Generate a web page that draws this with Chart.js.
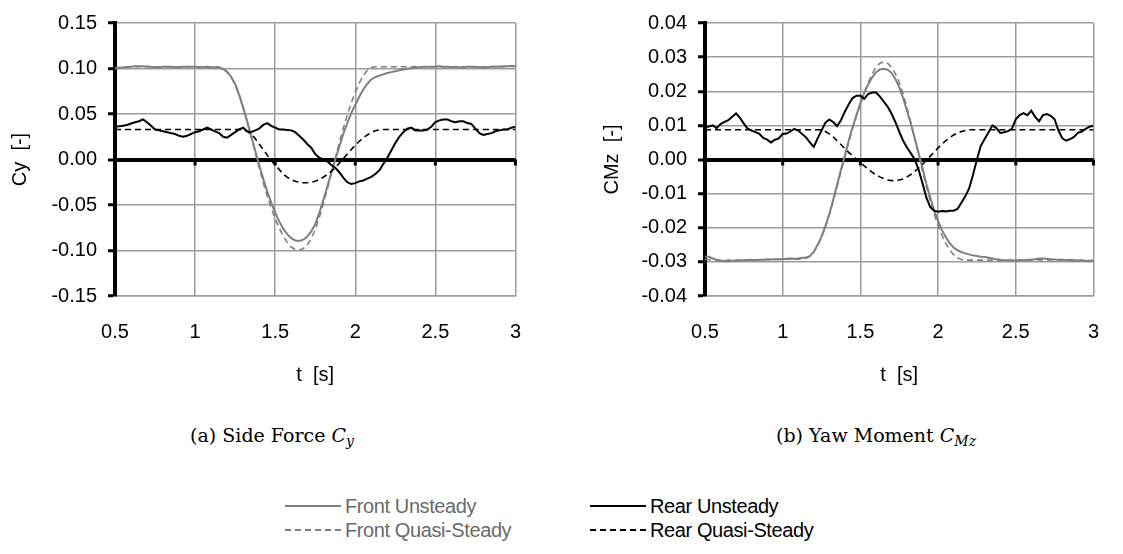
<!DOCTYPE html>
<html><head><meta charset="utf-8">
<script src="https://cdn.jsdelivr.net/npm/chart.js@4.4.1/dist/chart.umd.min.js"></script>
<style>
html,body{margin:0;padding:0;background:#fff;}
body{width:1123px;height:554px;position:relative;overflow:hidden;font-family:"Liberation Sans",Arial,sans-serif;}
.wrap{position:absolute;top:0;height:400px;}
#w1{left:0;width:545px;}
#w2{left:560px;width:563px;}
.cap{position:absolute;top:423px;font-family:"DejaVu Serif",serif;font-size:19px;white-space:nowrap;transform:translateX(-50%);color:#000;line-height:24px;}
.cap sub{font-size:14px;vertical-align:-4px;line-height:0;}
.leg{position:absolute;height:22px;display:flex;align-items:center;font-size:20px;letter-spacing:-0.4px;white-space:nowrap;}
.leg svg{margin-right:4px;}
</style>
</head><body>
<div class="wrap" id="w1"><canvas id="c1" width="545" height="400"></canvas></div>
<div class="wrap" id="w2"><canvas id="c2" width="563" height="400"></canvas></div>
<div class="cap" style="left:272px">(a) Side Force <i>C</i><sub><i>y</i></sub></div>
<div class="cap" style="left:876px">(b) Yaw Moment <i>C</i><sub><i>Mz</i></sub></div>
<div class="leg" style="left:285px;top:495px;color:#6a6a6a"><svg width="56" height="4"><line x1="0" y1="2" x2="56" y2="2" stroke="#808080" stroke-width="2"/></svg>Front Unsteady</div>
<div class="leg" style="left:285px;top:519px;color:#6a6a6a"><svg width="56" height="4"><line x1="0" y1="2" x2="56" y2="2" stroke="#808080" stroke-width="2" stroke-dasharray="6,4"/></svg>Front Quasi-Steady</div>
<div class="leg" style="left:590px;top:495px;color:#000"><svg width="56" height="4"><line x1="0" y1="2" x2="56" y2="2" stroke="#000" stroke-width="2"/></svg>Rear Unsteady</div>
<div class="leg" style="left:590px;top:519px;color:#000"><svg width="56" height="4"><line x1="0" y1="2" x2="56" y2="2" stroke="#000" stroke-width="2" stroke-dasharray="6,4"/></svg>Rear Quasi-Steady</div>
<script>
// ---- data ----
const T = [0.5,0.525,0.55,0.575,0.6,0.625,0.65,0.675,0.7,0.725,
0.75,0.775,0.8,0.825,0.85,0.875,0.9,0.925,0.95,0.975,
1,1.025,1.05,1.075,1.1,1.125,1.15,1.175,1.2,1.225,
1.25,1.275,1.3,1.325,1.35,1.375,1.4,1.425,1.45,1.475,
1.5,1.525,1.55,1.575,1.6,1.625,1.65,1.675,1.7,1.725,
1.75,1.775,1.8,1.825,1.85,1.875,1.9,1.925,1.95,1.975,
2,2.025,2.05,2.075,2.1,2.125,2.15,2.175,2.2,2.225,
2.25,2.275,2.3,2.325,2.35,2.375,2.4,2.425,2.45,2.475,
2.5,2.525,2.55,2.575,2.6,2.625,2.65,2.675,2.7,2.725,
2.75,2.775,2.8,2.825,2.85,2.875,2.9,2.925,2.95,2.975,
3];

const cyFrontUnsteady = [0.100,0.1005,0.101,0.1015,0.102,0.1025,0.1025,0.1025,0.1022,0.1018,
0.1015,0.1015,0.1018,0.102,0.1018,0.1015,0.1015,0.1018,0.102,0.102,
0.1018,0.1015,0.1015,0.1018,0.1015,0.1012,0.101,0.0995,0.0965,0.091,
0.083,0.071,0.057,0.042,0.026,0.010,-0.006,-0.021,-0.035,-0.047,
-0.058,-0.068,-0.076,-0.082,-0.0865,-0.089,-0.0895,-0.088,-0.085,-0.079,
-0.071,-0.059,-0.045,-0.030,-0.015,0.000,0.014,0.028,0.040,0.051,
0.060,0.069,0.077,0.083,0.088,0.0905,0.092,0.0935,0.095,0.096,
0.097,0.098,0.099,0.0997,0.1003,0.101,0.1015,0.1018,0.102,0.102,
0.1022,0.1025,0.102,0.1018,0.1015,0.1018,0.1012,0.1015,0.102,0.1018,
0.102,0.1015,0.101,0.1015,0.102,0.1018,0.1022,0.102,0.1025,0.1028,
0.1025];

const cyFrontQuasi = [0.1005,0.101,0.1015,0.102,0.102,0.102,0.102,0.102,0.102,0.102,
0.102,0.102,0.102,0.102,0.102,0.102,0.102,0.102,0.102,0.102,
0.102,0.102,0.102,0.102,0.102,0.102,0.1015,0.0995,0.096,0.0905,
0.0825,0.071,0.0575,0.042,0.025,0.008,-0.009,-0.025,-0.040,-0.053,
-0.065,-0.0755,-0.084,-0.091,-0.0962,-0.099,-0.0995,-0.098,-0.094,-0.087,
-0.077,-0.064,-0.049,-0.033,-0.016,0.001,0.018,0.034,0.049,0.062,
0.074,0.084,0.092,0.098,0.1012,0.102,0.102,0.102,0.102,0.102,
0.102,0.102,0.102,0.102,0.102,0.102,0.102,0.102,0.102,0.102,
0.102,0.102,0.102,0.102,0.102,0.102,0.102,0.102,0.102,0.102,
0.102,0.102,0.102,0.102,0.1022,0.1022,0.1022,0.1025,0.1025,0.1025,
0.1025];

const cyRearUnsteady = [0.036,0.0365,0.037,0.038,0.0395,0.041,0.042,0.044,0.041,0.037,
0.033,0.032,0.031,0.030,0.029,0.028,0.026,0.025,0.026,0.028,
0.030,0.031,0.033,0.035,0.033,0.031,0.029,0.025,0.024,0.027,
0.030,0.033,0.035,0.031,0.030,0.032,0.034,0.038,0.040,0.037,
0.035,0.033,0.033,0.0325,0.032,0.030,0.026,0.022,0.017,0.013,
0.006,0.002,0.000,-0.002,-0.006,-0.009,-0.014,-0.020,-0.025,-0.027,
-0.026,-0.024,-0.023,-0.021,-0.019,-0.016,-0.012,-0.005,0.002,0.010,
0.018,0.025,0.030,0.034,0.035,0.032,0.032,0.032,0.033,0.036,
0.041,0.043,0.044,0.044,0.042,0.041,0.042,0.042,0.040,0.039,
0.034,0.029,0.027,0.028,0.029,0.031,0.032,0.033,0.033,0.035,
0.036];

const cyRearQuasi = [0.033,0.033,0.033,0.033,0.033,0.033,0.033,0.033,0.033,0.033,
0.033,0.033,0.033,0.033,0.033,0.033,0.033,0.033,0.033,0.033,
0.033,0.033,0.033,0.033,0.033,0.033,0.033,0.033,0.033,0.033,
0.033,0.033,0.0325,0.031,0.028,0.023,0.017,0.011,0.005,-0.001,
-0.006,-0.011,-0.016,-0.0195,-0.022,-0.024,-0.025,-0.0255,-0.0255,-0.025,
-0.024,-0.022,-0.0195,-0.0165,-0.013,-0.009,-0.004,0.001,0.006,0.011,
0.0155,0.020,0.024,0.027,0.0295,0.0315,0.0325,0.033,0.033,0.033,
0.033,0.033,0.033,0.033,0.033,0.033,0.033,0.033,0.033,0.033,
0.033,0.033,0.033,0.033,0.033,0.033,0.033,0.033,0.033,0.033,
0.033,0.033,0.033,0.033,0.033,0.033,0.033,0.033,0.033,0.033,
0.033];

const cmFrontUnsteady = [-0.0284,-0.0285,-0.0290,-0.0294,-0.0296,-0.0298,-0.0298,-0.0297,-0.0297,-0.0296,
-0.0295,-0.0295,-0.0294,-0.0295,-0.0294,-0.0294,-0.0293,-0.0293,-0.0292,-0.0292,
-0.0292,-0.0291,-0.0290,-0.0291,-0.0290,-0.0288,-0.0287,-0.0283,-0.0270,-0.0250,
-0.0226,-0.0195,-0.0160,-0.0118,-0.0075,-0.0030,0.0012,0.0055,0.0095,0.0130,
0.0165,0.0195,0.0220,0.0240,0.0255,0.0264,0.0266,0.0263,0.0254,0.0236,
0.0212,0.0180,0.0143,0.0105,0.0062,0.0018,-0.0025,-0.0072,-0.0112,-0.0150,
-0.0180,-0.0207,-0.0228,-0.0245,-0.0258,-0.0266,-0.0271,-0.0275,-0.0278,-0.0281,
-0.0283,-0.0285,-0.0286,-0.0288,-0.0290,-0.0292,-0.0294,-0.0295,-0.0296,-0.0296,
-0.0296,-0.0295,-0.0295,-0.0294,-0.0294,-0.0292,-0.0290,-0.0290,-0.0291,-0.0292,
-0.0293,-0.0294,-0.0294,-0.0295,-0.0294,-0.0295,-0.0296,-0.0295,-0.0297,-0.0298,
-0.0296];

const cmFrontQuasi = [-0.0293,-0.0294,-0.0295,-0.0296,-0.0297,-0.0296,-0.0295,-0.0295,-0.0295,-0.0295,
-0.0295,-0.0295,-0.0294,-0.0294,-0.0294,-0.0294,-0.0293,-0.0293,-0.0293,-0.0293,
-0.0293,-0.0292,-0.0292,-0.0292,-0.0292,-0.0291,-0.0290,-0.0284,-0.0272,-0.0252,
-0.0228,-0.0198,-0.0163,-0.0122,-0.0080,-0.0036,0.0008,0.0050,0.0090,0.0128,
0.0162,0.0195,0.0225,0.0250,0.0270,0.0282,0.0286,0.0282,0.0271,0.0252,
0.0226,0.0192,0.0152,0.0108,0.0062,0.0014,-0.0034,-0.0080,-0.0122,-0.0160,
-0.0193,-0.0222,-0.0246,-0.0265,-0.0279,-0.0288,-0.0293,-0.0295,-0.0295,-0.0295,
-0.0295,-0.0295,-0.0295,-0.0295,-0.0295,-0.0295,-0.0295,-0.0295,-0.0295,-0.0295,
-0.0295,-0.0295,-0.0295,-0.0295,-0.0294,-0.0294,-0.0294,-0.0294,-0.0294,-0.0294,
-0.0295,-0.0295,-0.0295,-0.0295,-0.0295,-0.0296,-0.0296,-0.0296,-0.0296,-0.0296,
-0.0296];

const cmRearUnsteady = [0.0095,0.0097,0.0100,0.0092,0.0104,0.0110,0.0115,0.0125,0.0135,0.0122,
0.0105,0.0090,0.0085,0.0080,0.0075,0.0063,0.0058,0.0050,0.0058,0.0062,
0.0075,0.0076,0.0082,0.0090,0.0085,0.0075,0.0065,0.0050,0.0037,0.0062,
0.0085,0.0108,0.0117,0.0110,0.0098,0.0115,0.0140,0.0162,0.0180,0.0187,
0.0187,0.0178,0.0192,0.0196,0.0196,0.0185,0.0170,0.0155,0.0135,0.0110,
0.0082,0.0055,0.0035,0.0018,0.0000,-0.0030,-0.0070,-0.0112,-0.0140,-0.0150,
-0.0153,-0.0151,-0.0152,-0.0150,-0.0150,-0.0145,-0.0127,-0.0108,-0.0085,-0.0045,
0.0000,0.0040,0.0060,0.0080,0.0100,0.0092,0.0078,0.0080,0.0083,0.0090,
0.0118,0.0130,0.0136,0.0130,0.0143,0.0125,0.0112,0.0130,0.0133,0.0128,
0.0118,0.0085,0.0062,0.0055,0.0060,0.0066,0.0078,0.0082,0.0090,0.0096,
0.0099];

const cmRearQuasi = [0.0087,0.0087,0.0087,0.0087,0.0087,0.0087,0.0087,0.0087,0.0087,0.0087,
0.0087,0.0087,0.0087,0.0087,0.0087,0.0087,0.0087,0.0087,0.0087,0.0087,
0.0087,0.0087,0.0087,0.0087,0.0087,0.0087,0.0087,0.0087,0.0087,0.0087,
0.0087,0.0082,0.0075,0.0066,0.0055,0.0044,0.0032,0.0021,0.0011,0.0001,
-0.0009,-0.0019,-0.0028,-0.0037,-0.0045,-0.0051,-0.0056,-0.0060,-0.0062,-0.0062,
-0.0060,-0.0057,-0.0051,-0.0044,-0.0035,-0.0025,-0.0014,-0.0002,0.0010,0.0022,
0.0034,0.0045,0.0055,0.0064,0.0072,0.0078,0.0082,0.0085,0.0087,0.0087,
0.0087,0.0087,0.0087,0.0087,0.0087,0.0087,0.0087,0.0087,0.0087,0.0087,
0.0087,0.0087,0.0087,0.0087,0.0087,0.0087,0.0087,0.0087,0.0087,0.0087,
0.0087,0.0087,0.0087,0.0087,0.0087,0.0087,0.0087,0.0087,0.0087,0.0087,
0.0087];

const xTicks = [0.5, 1, 1.5, 2, 2.5, 3];
const xTickLabels = ['0.5', '1', '1.5', '2', '2.5', '3'];
const cyTicks = [-0.15, -0.10, -0.05, 0, 0.05, 0.10, 0.15];
const cyTickLabels = ['-0.15', '-0.10', '-0.05', '0.00', '0.05', '0.10', '0.15'];
const cmTicks = [-0.04, -0.03, -0.02, -0.01, 0, 0.01, 0.02, 0.03, 0.04];
const cmTickLabels = ['-0.04', '-0.03', '-0.02', '-0.01', '0.00', '0.01', '0.02', '0.03', '0.04'];
const seriesNames = ['Rear Unsteady', 'Rear Quasi-Steady', 'Front Unsteady', 'Front Quasi-Steady'];

// ---- drawing ----
Chart.defaults.font.family = "'Liberation Sans', Arial, sans-serif";
Chart.defaults.font.size = 20;
Chart.defaults.color = '#000';

const GRID = '#9b9b9b';
const GRAY = '#7f7f7f';

const zeroTicks = {
  id: 'zeroTicks',
  beforeDatasetsDraw(chart) {
    const {ctx, scales: {x, y}} = chart;
    const y0 = y.getPixelForValue(0);
    ctx.save();
    ctx.strokeStyle = '#000';
    ctx.lineWidth = 3;
    x.ticks.forEach(t => {
      const px = x.getPixelForValue(t.value);
      ctx.beginPath(); ctx.moveTo(px, y0); ctx.lineTo(px, y0 + 6); ctx.stroke();
    });
    ctx.restore();
  }
};

function pts(arr) { return T.map((t, i) => ({x: t, y: arr[i]})); }

function makeChart(id, rU, rQ, fU, fQ, yTicks, yLabels, yTitle, yWidth, titlePad, padRight) {
  const yMin = yTicks[0], yMax = yTicks[yTicks.length - 1];
  return new Chart(document.getElementById(id), {
    type: 'line',
    data: {
      datasets: [
        {label: seriesNames[0], data: pts(rU), borderColor: '#000', borderWidth: 2},
        {label: seriesNames[1], data: pts(rQ), borderColor: '#000', borderWidth: 1.6, borderDash: [6, 4]},
        {label: seriesNames[2], data: pts(fU), borderColor: GRAY, borderWidth: 2},
        {label: seriesNames[3], data: pts(fQ), borderColor: GRAY, borderWidth: 1.6, borderDash: [6, 4]}
      ]
    },
    options: {
      responsive: false,
      animation: false,
      events: [],
      elements: {point: {radius: 0}, line: {tension: 0, fill: false}},
      layout: {padding: {left: 0, right: padRight, top: 19, bottom: 0}},
      plugins: {legend: {display: false}, tooltip: {enabled: false}},
      scales: {
        x: {
          type: 'linear', min: 0.5, max: 3,
          afterBuildTicks: s => { s.ticks = xTicks.map(v => ({value: v})); },
          afterFit: s => { s.height = 104; },
          ticks: {padding: 24, maxRotation: 0, autoSkip: false,
                  callback: (v) => xTickLabels[xTicks.indexOf(v)]},
          grid: {color: GRID, lineWidth: 1.5, drawTicks: false},
          border: {display: true, color: GRID, width: 1.5},
          title: {display: true, text: 't  [s]', padding: {top: 0, bottom: 13}, font: {size: 20}}
        },
        y: {
          type: 'linear', min: yMin, max: yMax,
          afterBuildTicks: s => { s.ticks = yTicks.map(v => ({value: v})); },
          afterFit: s => { s.width = yWidth; },
          ticks: {padding: 11, autoSkip: false,
                  callback: (v) => yLabels[yTicks.findIndex(t => Math.abs(t - v) < 1e-9)]},
          grid: {
            color: c => (c.tick && Math.abs(c.tick.value) < 1e-9) ? '#000' : GRID,
            lineWidth: c => (c.tick && Math.abs(c.tick.value) < 1e-9) ? 4 : 1.5,
            drawTicks: true, tickLength: 7, tickColor: '#000', tickWidth: 3
          },
          border: {display: true, color: '#000', width: 4},
          title: {display: true, text: yTitle, padding: {top: titlePad, bottom: 0}, font: {size: 20}}
        }
      }
    },
    plugins: [zeroTicks]
  });
}

makeChart('c1', cyRearUnsteady, cyRearQuasi, cyFrontUnsteady, cyFrontQuasi,
          cyTicks, cyTickLabels, 'Cy  [-]', 115, 8, 24);
makeChart('c2', cmRearUnsteady, cmRearQuasi, cmFrontUnsteady, cmFrontQuasi,
          cmTicks, cmTickLabels, 'CMz  [-]', 145, 40, 12);
</script>
</body></html>
